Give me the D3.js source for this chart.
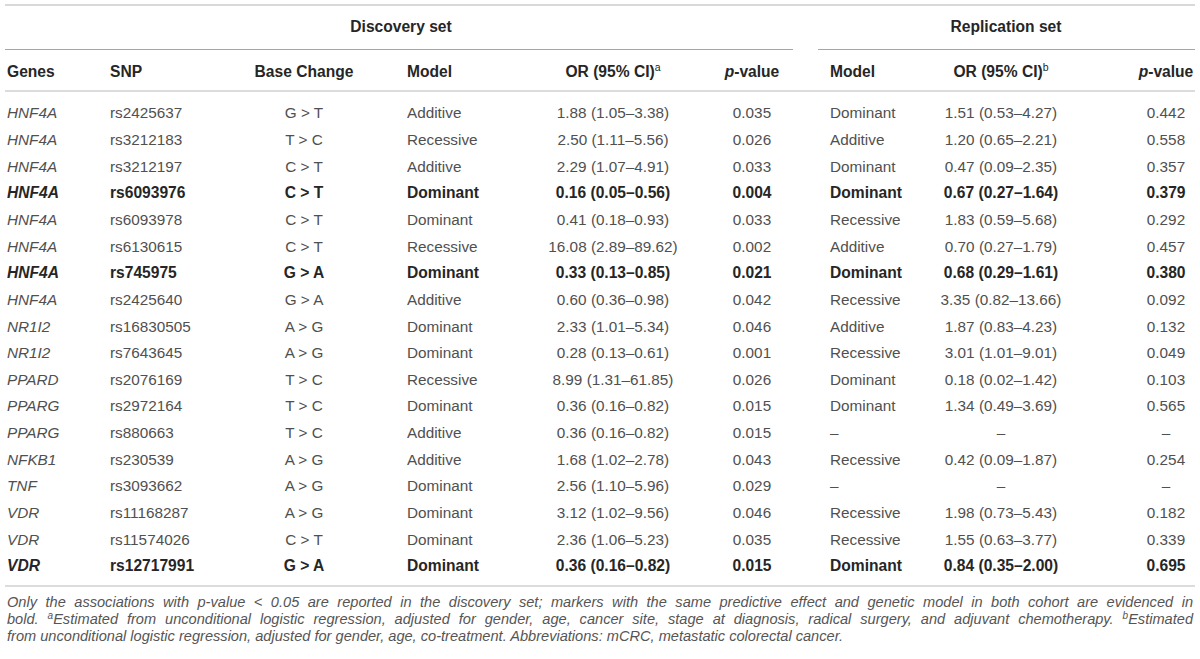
<!DOCTYPE html>
<html>
<head>
<meta charset="utf-8">
<script src="https://cdn.jsdelivr.net/npm/d3@7"></script>
<style>
  html, body { margin: 0; padding: 0; background: #fff; }
  svg { display: block; }
  text { font-family: "Liberation Sans", Arial, sans-serif; }
</style>
</head>
<body>
<svg id="chart" width="1200" height="659"></svg>
<script>
// ---------------- DATA ----------------
const genes = ["HNF4A","HNF4A","HNF4A","HNF4A","HNF4A","HNF4A","HNF4A","HNF4A","NR1I2","NR1I2","PPARD","PPARG","PPARG","NFKB1","TNF","VDR","VDR","VDR"];
const snps = ["rs2425637","rs3212183","rs3212197","rs6093976","rs6093978","rs6130615","rs745975","rs2425640","rs16830505","rs7643645","rs2076169","rs2972164","rs880663","rs230539","rs3093662","rs11168287","rs11574026","rs12717991"];
const baseChanges = ["G > T","T > C","C > T","C > T","C > T","C > T","G > A","G > A","A > G","A > G","T > C","T > C","T > C","A > G","A > G","A > G","C > T","G > A"];
const discModel = ["Additive","Recessive","Additive","Dominant","Dominant","Recessive","Dominant","Additive","Dominant","Dominant","Recessive","Dominant","Additive","Additive","Dominant","Dominant","Dominant","Dominant"];
const discOR = ["1.88 (1.05–3.38)","2.50 (1.11–5.56)","2.29 (1.07–4.91)","0.16 (0.05–0.56)","0.41 (0.18–0.93)","16.08 (2.89–89.62)","0.33 (0.13–0.85)","0.60 (0.36–0.98)","2.33 (1.01–5.34)","0.28 (0.13–0.61)","8.99 (1.31–61.85)","0.36 (0.16–0.82)","0.36 (0.16–0.82)","1.68 (1.02–2.78)","2.56 (1.10–5.96)","3.12 (1.02–9.56)","2.36 (1.06–5.23)","0.36 (0.16–0.82)"];
const discP = ["0.035","0.026","0.033","0.004","0.033","0.002","0.021","0.042","0.046","0.001","0.026","0.015","0.015","0.043","0.029","0.046","0.035","0.015"];
const repModel = ["Dominant","Additive","Dominant","Dominant","Recessive","Additive","Dominant","Recessive","Additive","Recessive","Dominant","Dominant","–","Recessive","–","Recessive","Recessive","Dominant"];
const repOR = ["1.51 (0.53–4.27)","1.20 (0.65–2.21)","0.47 (0.09–2.35)","0.67 (0.27–1.64)","1.83 (0.59–5.68)","0.70 (0.27–1.79)","0.68 (0.29–1.61)","3.35 (0.82–13.66)","1.87 (0.83–4.23)","3.01 (1.01–9.01)","0.18 (0.02–1.42)","1.34 (0.49–3.69)","–","0.42 (0.09–1.87)","–","1.98 (0.73–5.43)","1.55 (0.63–3.77)","0.84 (0.35–2.00)"];
const repP = ["0.442","0.558","0.357","0.379","0.292","0.457","0.380","0.092","0.132","0.049","0.103","0.565","–","0.254","–","0.182","0.339","0.695"];
const boldRows = [false,false,false,true,false,false,true,false,false,false,false,false,false,false,false,false,false,true];
const groupLabels = ["Discovery set","Replication set"];
const footLines = [
  [{t:"Only the associations with p-value < 0.05 are reported in the discovery set; markers with the same predictive effect and genetic model in both cohort are evidenced in"}],
  [{t:"bold. "},{t:"a",sup:true},{t:"Estimated from unconditional logistic regression, adjusted for gender, age, cancer site, stage at diagnosis, radical surgery, and adjuvant chemotherapy. "},{t:"b",sup:true},{t:"Estimated"}],
  [{t:"from unconditional logistic regression, adjusted for gender, age, co-treatment. Abbreviations: mCRC, metastatic colorectal cancer."}]
];

// ---------------- LAYOUT ----------------
const W = 1200, H = 659;
const svg = d3.select("#chart");
const normalColor = "#505050", boldColor = "#262626";
const fs = 15.3, fsBold = 15.6;

const columns = [
  {key:"gene",   x:7,    anchor:"start",  data:genes, italic:true, header:[{t:"Genes"}]},
  {key:"snp",    x:110,  anchor:"start",  data:snps, header:[{t:"SNP"}]},
  {key:"base",   x:304,  anchor:"middle", data:baseChanges, header:[{t:"Base Change"}]},
  {key:"dmodel", x:407,  anchor:"start",  data:discModel, header:[{t:"Model"}]},
  {key:"dor",    x:613,  anchor:"middle", data:discOR, header:[{t:"OR (95% CI)"},{t:"a",sup:true}]},
  {key:"dp",     x:752,  anchor:"middle", data:discP, header:[{t:"p",it:true},{t:"-value"}]},
  {key:"rmodel", x:830,  anchor:"start",  data:repModel, header:[{t:"Model"}]},
  {key:"ror",    x:1001, anchor:"middle", data:repOR, header:[{t:"OR (95% CI)"},{t:"b",sup:true}]},
  {key:"rp",     x:1166, anchor:"middle", data:repP, header:[{t:"p",it:true},{t:"-value"}]}
];

const y = d3.scalePoint().domain(d3.range(genes.length)).range([113, 566]);

// rules
const rule = (x1, x2, yy, color, w) => svg.append("line")
  .attr("x1", x1).attr("x2", x2).attr("y1", yy).attr("y2", yy)
  .attr("stroke", color).attr("stroke-width", w);
rule(5, 1195, 5, "#d9d9d9", 2);
rule(5, 793, 49.5, "#a6a6a6", 1);
rule(818, 1195, 49.5, "#a6a6a6", 1);
rule(5, 1195, 91, "#dcdcdc", 2);
rule(5, 1195, 586, "#dcdcdc", 2);

// group headers
svg.selectAll("text.group").data(groupLabels).join("text")
  .attr("class", "group")
  .attr("x", (d, i) => i === 0 ? 401 : 1006)
  .attr("y", 27).attr("dy", "0.35em")
  .attr("text-anchor", "middle")
  .attr("font-size", fsBold).attr("font-weight", "bold").attr("fill", boldColor)
  .text(d => d);

// column headers
const hdr = svg.selectAll("text.hdr").data(columns).join("text")
  .attr("class", "hdr")
  .attr("x", d => d.x).attr("y", 72).attr("dy", "0.35em")
  .attr("text-anchor", d => d.anchor)
  .attr("font-size", fsBold).attr("font-weight", "bold").attr("fill", boldColor);
hdr.each(function(d) {
  const t = d3.select(this);
  d.header.forEach(p => {
    const ts = t.append("tspan").text(p.t);
    if (p.it) ts.attr("font-style", "italic");
    if (p.sup) ts.attr("font-size", 10.5).attr("baseline-shift", "super").attr("font-weight", "normal");
  });
});

// body cells
columns.forEach(col => {
  svg.append("g").selectAll("text").data(col.data).join("text")
    .attr("x", col.x)
    .attr("y", (d, i) => y(i)).attr("dy", "0.35em")
    .attr("text-anchor", col.anchor)
    .attr("font-size", (d, i) => boldRows[i] ? fsBold : fs)
    .attr("font-style", col.italic ? "italic" : "normal")
    .attr("font-weight", (d, i) => boldRows[i] ? "bold" : "normal")
    .attr("fill", (d, i) => boldRows[i] ? boldColor : normalColor)
    .text(d => d);
});

// footnote
const footY = [602, 619, 636];
const footX0 = 7, footX1 = 1193;
footLines.forEach((parts, li) => {
  const t = svg.append("text")
    .attr("x", footX0).attr("y", footY[li]).attr("dy", "0.35em")
    .attr("font-size", 14.6).attr("font-style", "italic").attr("fill", "#555");
  parts.forEach(p => {
    const ts = t.append("tspan").text(p.t);
    if (p.sup) ts.attr("font-size", 10).attr("baseline-shift", "super");
  });
  if (li < 2) {
    const len = t.node().getComputedTextLength();
    const spaces = parts.map(p => (p.t.match(/ /g) || []).length).reduce((a, b) => a + b, 0);
    const ws = (footX1 - footX0 - len) / spaces;
    t.attr("word-spacing", ws);
  }
});
</script>
</body>
</html>
